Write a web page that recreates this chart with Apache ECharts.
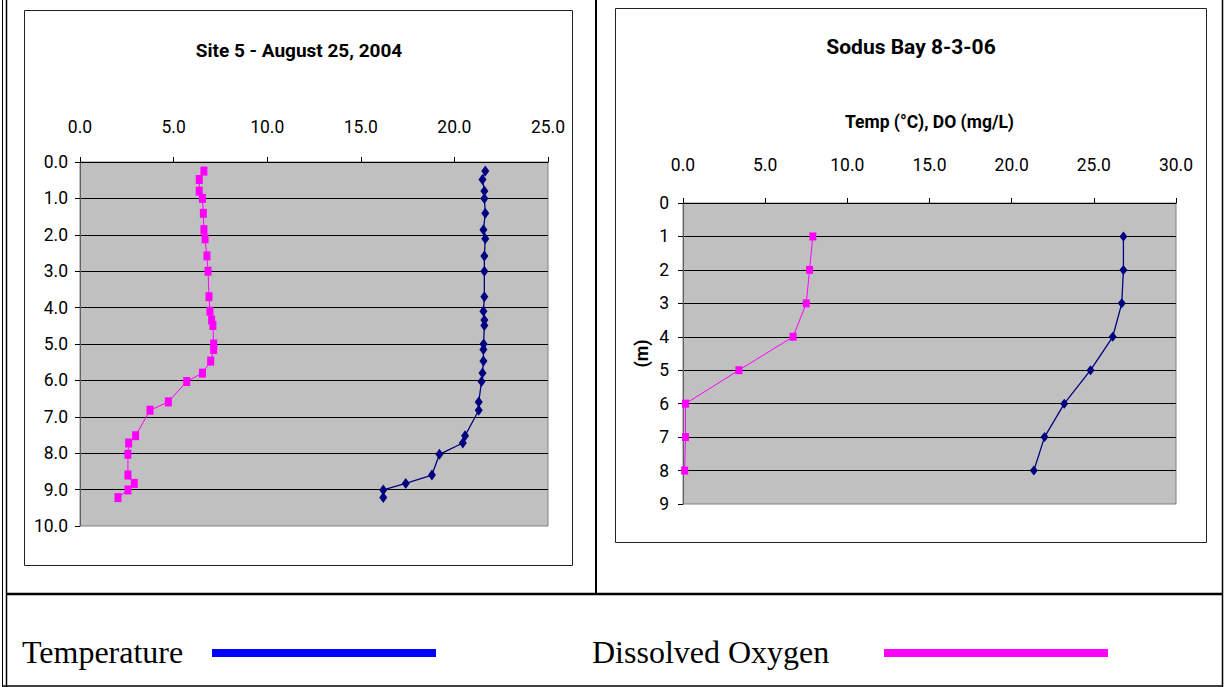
<!DOCTYPE html>
<html>
<head>
<meta charset="utf-8">
<script src="https://cdn.jsdelivr.net/npm/echarts/dist/echarts.min.js"></script>
<style>
  html, body { margin: 0; padding: 0; background: #fff; }
  #main { width: 1225px; height: 687px; }
</style>
</head>
<body>
<div id="main"></div>
<script>
// Site 5 - August 25, 2004
var site5Depth = [0.25, 0.48, 0.8, 1.0, 1.41, 1.86, 2.11, 2.58, 3.0, 3.7, 4.1, 4.34, 4.49, 5.0,
  5.15, 5.47, 5.8, 6.03, 6.59, 6.82, 7.52, 7.72, 8.03, 8.6, 8.83, 9.01, 9.22];
var site5Temp = [21.65, 21.5, 21.6, 21.6, 21.65, 21.55, 21.65, 21.6, 21.6, 21.6, 21.55, 21.6, 21.6, 21.56,
  21.55, 21.55, 21.5, 21.45, 21.3, 21.3, 20.57, 20.45, 19.2, 18.8, 17.4, 16.2, 16.2];
var site5DO = [6.62, 6.37, 6.37, 6.54, 6.59, 6.62, 6.68, 6.78, 6.84, 6.89, 6.94, 7.03, 7.1, 7.14,
  7.14, 6.98, 6.54, 5.7, 4.72, 3.74, 2.97, 2.6, 2.56, 2.56, 2.9, 2.56, 2.03];

// Sodus Bay 8-3-06
var sodusDepth = [1, 2, 3, 4, 5, 6, 7, 8];
var sodusTemp = [26.8, 26.8, 26.7, 26.15, 24.8, 23.2, 22.0, 21.35];
var sodusDO = [7.9, 7.7, 7.5, 6.7, 3.4, 0.15, 0.15, 0.1];

var NARROW = '"Liberation Sans Narrow", "Arial Narrow", Roboto, sans-serif';
var SERIF = '"Liberation Serif", "Times New Roman", serif';

function pairs(vals, depth) {
  return depth.map(function (d, i) { return [vals[i], d]; });
}

var myChart = echarts.init(document.getElementById('main'), null, { renderer: 'svg' });

var xAxisBase = {
  type: 'value',
  position: 'top',
  min: 0,
  interval: 5,
  axisLine: { show: true, lineStyle: { color: '#000', width: 1 } },
  axisTick: { show: true, length: 5, lineStyle: { color: '#000' } },
  axisLabel: { fontFamily: NARROW, fontSize: 17.5, color: '#000', formatter: function (v) { return v.toFixed(1); } },
  splitLine: { show: false }
};

var yAxisBase = {
  type: 'value',
  inverse: true,
  min: 0,
  interval: 1,
  axisLine: { show: true, lineStyle: { color: '#606060', width: 1 } },
  axisTick: { show: true, length: 5, lineStyle: { color: '#000' } },
  splitLine: { show: true, showMinLine: false, showMaxLine: false, lineStyle: { color: '#000', width: 1 } },
  axisLabel: { fontFamily: NARROW, fontSize: 17.5, color: '#000' }
};

var option = {
  animation: false,
  grid: [
    { left: 80, top: 162, width: 468, height: 364, show: true, backgroundColor: '#C0C0C0', borderColor: '#808080', borderWidth: 1 },
    { left: 683, top: 203, width: 493, height: 301, show: true, backgroundColor: '#C0C0C0', borderColor: '#808080', borderWidth: 1 }
  ],
  xAxis: [
    echarts.util.merge({ gridIndex: 0, max: 25, axisLabel: { margin: 26 } }, xAxisBase),
    echarts.util.merge({
      gridIndex: 1, max: 30, axisLabel: { margin: 29 },
      name: 'Temp (°C), DO (mg/L)', nameLocation: 'middle', nameGap: 72,
      nameTextStyle: { fontFamily: NARROW, fontSize: 17.5, fontWeight: 'bold', color: '#000' }
    }, xAxisBase)
  ],
  yAxis: [
    echarts.util.merge({ gridIndex: 0, max: 10, axisLabel: { margin: 12, formatter: function (v) { return v.toFixed(1); } } }, yAxisBase),
    echarts.util.merge({
      gridIndex: 1, max: 9, axisLabel: { margin: 14 },
      name: '(m)', nameLocation: 'middle', nameGap: 33, nameRotate: 90,
      nameTextStyle: { fontFamily: NARROW, fontSize: 18, fontWeight: 'bold', color: '#000' }
    }, yAxisBase)
  ],
  series: [
    {
      name: 'Temperature', type: 'line', xAxisIndex: 0, yAxisIndex: 0,
      data: pairs(site5Temp, site5Depth),
      symbol: 'diamond', symbolSize: [8, 11],
      lineStyle: { color: '#000080', width: 1.3 }, itemStyle: { color: '#000080' }
    },
    {
      name: 'Dissolved Oxygen', type: 'line', xAxisIndex: 0, yAxisIndex: 0,
      data: pairs(site5DO, site5Depth),
      symbol: 'rect', symbolSize: [7, 9],
      lineStyle: { color: '#FF00FF', width: 1 }, itemStyle: { color: '#FF00FF' }
    },
    {
      name: 'Temperature', type: 'line', xAxisIndex: 1, yAxisIndex: 1,
      data: pairs(sodusTemp, sodusDepth),
      symbol: 'diamond', symbolSize: [8, 10],
      lineStyle: { color: '#000080', width: 1.3 }, itemStyle: { color: '#000080' }
    },
    {
      name: 'Dissolved Oxygen', type: 'line', xAxisIndex: 1, yAxisIndex: 1,
      data: pairs(sodusDO, sodusDepth),
      symbol: 'rect', symbolSize: [7, 8],
      lineStyle: { color: '#FF00FF', width: 1 }, itemStyle: { color: '#FF00FF' }
    }
  ],
  graphic: [
    // outer frame
    { type: 'line', shape: { x1: 2.5, y1: 0, x2: 2.5, y2: 687 }, style: { stroke: '#000', lineWidth: 1 } },
    { type: 'line', shape: { x1: 6.5, y1: 0, x2: 6.5, y2: 687 }, style: { stroke: '#000', lineWidth: 1.5 } },
    { type: 'line', shape: { x1: 1222.5, y1: 0, x2: 1222.5, y2: 687 }, style: { stroke: '#000', lineWidth: 1.5 } },
    { type: 'line', shape: { x1: 596, y1: 0, x2: 596, y2: 594 }, style: { stroke: '#000', lineWidth: 2 } },
    { type: 'line', shape: { x1: 6, y1: 594, x2: 1223, y2: 594 }, style: { stroke: '#000', lineWidth: 2.5 } },
    { type: 'line', shape: { x1: 2, y1: 686, x2: 1223, y2: 686 }, style: { stroke: '#000', lineWidth: 1.5 } },
    // chart boxes
    { type: 'rect', shape: { x: 24.5, y: 10.5, width: 548, height: 555 }, style: { fill: null, stroke: '#222', lineWidth: 1 }, z: -1 },
    { type: 'rect', shape: { x: 615.5, y: 8.5, width: 591, height: 534 }, style: { fill: null, stroke: '#222', lineWidth: 1 }, z: -1 },
    // titles
    { type: 'text', x: 299, y: 50, style: { text: 'Site 5 - August 25, 2004', font: 'bold 19px ' + NARROW, fill: '#000', textAlign: 'center', textVerticalAlign: 'middle' } },
    { type: 'text', x: 911, y: 47, style: { text: 'Sodus Bay 8-3-06', font: 'bold 21px ' + NARROW, fill: '#000', textAlign: 'center', textVerticalAlign: 'middle' } },
    // legend
    { type: 'text', x: 22, y: 652, style: { text: 'Temperature', font: '32px ' + SERIF, fill: '#000', textAlign: 'left', textVerticalAlign: 'middle' } },
    { type: 'rect', shape: { x: 212, y: 649, width: 224, height: 8 }, style: { fill: '#0000FF' } },
    { type: 'text', x: 592, y: 652, style: { text: 'Dissolved Oxygen', font: '32px ' + SERIF, fill: '#000', textAlign: 'left', textVerticalAlign: 'middle' } },
    { type: 'rect', shape: { x: 884, y: 649, width: 224, height: 8 }, style: { fill: '#FF00FF' } }
  ]
};

myChart.setOption(option);
</script>
</body>
</html>
